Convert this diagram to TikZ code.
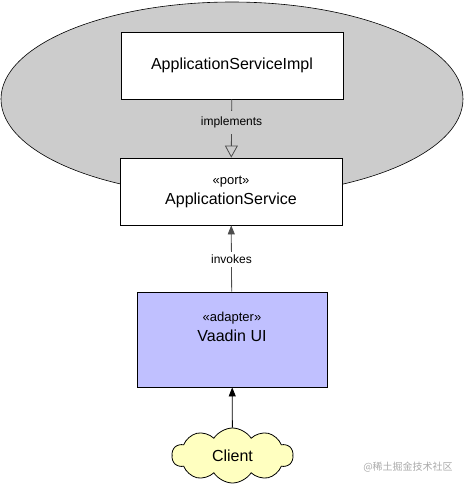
\documentclass[tikz,border=0pt]{standalone}
\usepackage{fontspec}
\setmainfont{Liberation Sans}
\newfontfamily\cjkfont{Noto Sans CJK SC}
\usetikzlibrary{arrows.meta, positioning, shapes.geometric, shapes.symbols}
\definecolor{hexa}{RGB}{204, 204, 204}
\definecolor{adapter}{RGB}{192, 192, 255}
\definecolor{actor}{RGB}{255, 255, 192}
\definecolor{mark}{RGB}{170, 170, 170}

\begin{document}
\begin{tikzpicture}[x=1pt, y=-1pt,
    box/.style={draw, fill=white, line width=0.8pt, inner sep=0pt, align=center,
      minimum width=222pt, minimum height=67pt, font=\fontsize{16}{19}\selectfont},
    lbl/.style={font=\fontsize{12}{14}\selectfont, inner xsep=1pt},
    stereo/.style={font=\fontsize{13}{15}\selectfont}]
    \useasboundingbox (0,0) rectangle (465,485);
    % hexagon (application core)
    \node[ellipse, draw, fill=hexa, line width=0.6pt, inner sep=0pt,
      minimum width=462pt, minimum height=194pt] (core) at (232,99) {};
    \node[box] (impl) at (232,65.5) {ApplicationServiceImpl};
    \node[box] (port) at (231,191.5) {{\fontsize{13}{15}\selectfont «port»}\\[1pt]ApplicationService};
    \node[box, fill=adapter, minimum width=190pt, minimum height=95pt] (vaadin) at (232,339.5) {};
    \node[align=center, font=\fontsize{16}{19}\selectfont] (vaadinText) at ([yshift=13pt]vaadin.center)
      {{\fontsize{13}{15}\selectfont «adapter»}\\[1pt]Vaadin UI};
    \node[cloud, cloud puffs=10, cloud puff arc=115, aspect=2.2, draw, fill=actor, line width=0.8pt,
      inner sep=0pt, minimum width=121pt, minimum height=55pt, font=\fontsize{16}{19}\selectfont]
      (client) at (232.5,455.5) {Client};
    % relations
    \draw[line width=0.8pt, black!70, -{Triangle[open, width=13pt, length=12pt]}]
      (impl) -- node[lbl, fill=hexa, inner ysep=6pt, pos=0.39, text=black] {implements} (port);
    \draw[line width=0.8pt, black!70, -{Triangle[width=7pt, length=9pt]}]
      (vaadin) -- node[lbl, fill=white, inner ysep=3pt, pos=0.49, text=black] {invokes} (port);
    \draw[line width=0.8pt, -{Triangle[width=7pt, length=9pt]}] (client) -- (vaadin);
    % watermark
    \node[font=\cjkfont\fontsize{10}{12}\selectfont, text=mark] (mark) at (408,467) {@稀土掘金技术社区};
\end{tikzpicture}
\end{document}
